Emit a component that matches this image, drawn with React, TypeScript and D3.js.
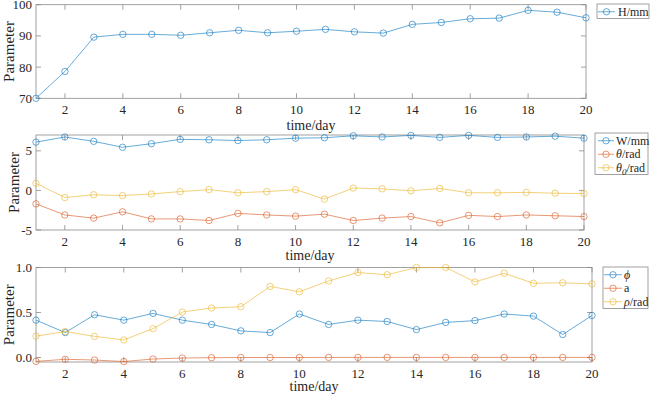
import React, { useEffect, useRef } from 'react';
import * as d3 from 'd3';

// time axis
const days = [1, 2, 3, 4, 5, 6, 7, 8, 9, 10, 11, 12, 13, 14, 15, 16, 17, 18, 19, 20];
const xTicks = [2, 4, 6, 8, 10, 12, 14, 16, 18, 20];

// panel 1
const hMm = [70, 78.6, 89.6, 90.5, 90.5, 90.2, 91.0, 91.8, 91.0, 91.5, 92.1, 91.3, 90.9, 93.7, 94.3, 95.5, 95.7, 98.2, 97.6, 95.8];

// panel 2
const wMm = [6.1, 6.75, 6.2, 5.45, 5.9, 6.45, 6.4, 6.3, 6.4, 6.6, 6.65, 6.9, 6.75, 6.95, 6.7, 6.95, 6.7, 6.75, 6.85, 6.6];
const thetaRad = [-1.7, -3.1, -3.5, -2.7, -3.6, -3.6, -3.8, -2.9, -3.1, -3.25, -3.0, -3.8, -3.5, -3.3, -4.1, -3.15, -3.3, -3.1, -3.2, -3.3];
const theta0Rad = [0.9, -0.9, -0.55, -0.65, -0.45, -0.15, 0.1, -0.3, -0.15, 0.1, -1.1, 0.3, 0.2, -0.05, 0.25, -0.3, -0.3, -0.25, -0.35, -0.4];

// panel 3
const phiVals = [0.415, 0.277, 0.475, 0.415, 0.49, 0.415, 0.367, 0.296, 0.277, 0.483, 0.367, 0.415, 0.40, 0.31, 0.39, 0.41, 0.483, 0.46, 0.255, 0.467];
const aVals = [-0.043, -0.02, -0.028, -0.045, -0.017, -0.006, -0.002, 0, 0, 0, 0.001, 0.001, 0.001, 0.001, 0.001, 0.001, 0.001, 0.001, 0.001, 0.001];
const rhoRad = [0.237, 0.288, 0.235, 0.195, 0.32, 0.505, 0.55, 0.564, 0.79, 0.73, 0.85, 0.944, 0.92, 1.0, 1.0, 0.84, 0.936, 0.825, 0.83, 0.818];

const blue = '#0072BD', red = '#D95319', yellow = '#EDB120';
const axisCol = '#8a8a8a';
const txtCol = '#262626';
const font = 'Liberation Serif';

const panels = [
  {
    box: { l: 36, r: 586, t: 4.7, b: 98.3 }, yDomain: [70, 100], yTicks: [70, 80, 90, 100], yFmt: (d: number) => String(d),
    xLabelY: 130, yLabelX: 9,
    series: [{ vals: hMm, color: blue, label: [{ t: 'H/mm' }] }],
    legend: { x: 597, y: 4, w: 52, line: [598, 615], text: 618 },
  },
  {
    box: { l: 36, r: 584, t: 135, b: 230 }, yDomain: [-5, 7], yTicks: [-5, 0, 5], yFmt: (d: number) => String(d),
    xLabelY: 260, yLabelX: 14,
    series: [
      { vals: wMm, color: blue, label: [{ t: 'W/mm' }] },
      { vals: thetaRad, color: red, label: [{ t: 'θ', i: true }, { t: '/rad' }] },
      { vals: theta0Rad, color: yellow, label: [{ t: 'θ', i: true }, { t: '0', i: true, sub: true }, { t: '/rad' }] },
    ],
    legend: { x: 595, y: 133, w: 53, line: [598, 614], text: 616 },
  },
  {
    box: { l: 36, r: 592, t: 267.5, b: 362 }, yDomain: [-0.05, 1.0], yTicks: [0, 0.5, 1.0], yFmt: d3.format('.1f'),
    xLabelY: 391, yLabelX: 9,
    series: [
      { vals: phiVals, color: blue, label: [{ t: 'ϕ', i: true }] },
      { vals: aVals, color: red, label: [{ t: 'a' }] },
      { vals: rhoRad, color: yellow, label: [{ t: 'ρ', i: true }, { t: '/rad' }] },
    ],
    legend: { x: 603, y: 267, w: 45, line: [604, 622], text: 624 },
  },
];

export default function App() {
  const ref = useRef<SVGSVGElement>(null);

  useEffect(() => {
    const svg = d3.select(ref.current);
    svg.selectAll('*').remove();

    panels.forEach(p => {
      const { l, r, t, b } = p.box;
      const x = d3.scaleLinear().domain([1, 20]).range([l, r]);
      const y = d3.scaleLinear().domain(p.yDomain).range([b, t]);
      const g = svg.append('g').attr('font-family', font);

      // box
      g.append('rect').attr('x', l).attr('y', t).attr('width', r - l).attr('height', b - t)
        .attr('fill', 'white').attr('stroke', axisCol).attr('stroke-width', 0.8);

      // ticks, inward on all four sides
      xTicks.forEach(d => {
        g.append('line').attr('x1', x(d)).attr('x2', x(d)).attr('y1', b).attr('y2', b - 5).attr('stroke', axisCol).attr('stroke-width', 0.8);
        g.append('line').attr('x1', x(d)).attr('x2', x(d)).attr('y1', t).attr('y2', t + 5).attr('stroke', axisCol).attr('stroke-width', 0.8);
        g.append('text').attr('x', x(d)).attr('y', b + 15.5).attr('text-anchor', 'middle')
          .attr('font-family', font).attr('font-size', 13).attr('fill', txtCol).text(d);
      });
      p.yTicks.forEach(d => {
        g.append('line').attr('x1', l).attr('x2', l + 5).attr('y1', y(d)).attr('y2', y(d)).attr('stroke', axisCol).attr('stroke-width', 0.8);
        g.append('line').attr('x1', r).attr('x2', r - 5).attr('y1', y(d)).attr('y2', y(d)).attr('stroke', axisCol).attr('stroke-width', 0.8);
        g.append('text').attr('x', l - 4).attr('y', y(d)).attr('dy', '0.35em').attr('text-anchor', 'end')
          .attr('font-family', font).attr('font-size', 13).attr('fill', txtCol).text(p.yFmt(d));
      });

      // axis labels
      g.append('text').attr('x', (l + r) / 2).attr('y', p.xLabelY).attr('text-anchor', 'middle')
        .attr('font-family', font).attr('font-size', 14).attr('fill', txtCol).text('time/day');
      g.append('text').attr('transform', `translate(${p.yLabelX},${(t + b) / 2}) rotate(-90)`)
        .attr('text-anchor', 'middle').attr('dy', '0.35em')
        .attr('font-family', font).attr('font-size', 15).attr('fill', txtCol).text('Parameter');

      // series
      const line = d3.line<number>().x((_, i) => x(days[i])).y(v => y(v));
      p.series.forEach(s => {
        g.append('path').datum(s.vals).attr('d', line).attr('fill', 'none')
          .attr('stroke', s.color).attr('stroke-width', 0.8).attr('stroke-opacity', 0.75);
        g.append('g').selectAll('circle').data(s.vals).join('circle')
          .attr('cx', (_, i) => x(days[i])).attr('cy', v => y(v)).attr('r', 3.2)
          .attr('fill', 'none').attr('stroke', s.color).attr('stroke-width', 0.8).attr('stroke-opacity', 0.75);
      });

      // legend
      const lg = p.legend;
      const rowH = 13.5;
      const n = p.series.length;
      g.append('rect').attr('x', lg.x).attr('y', lg.y).attr('width', lg.w).attr('height', n * rowH + 1)
        .attr('fill', 'white').attr('stroke', axisCol).attr('stroke-width', 0.8);
      p.series.forEach((s, k) => {
        const cy = lg.y + rowH / 2 + 1 + k * rowH;
        g.append('line').attr('x1', lg.line[0]).attr('x2', lg.line[1]).attr('y1', cy).attr('y2', cy)
          .attr('stroke', s.color).attr('stroke-width', 0.8).attr('stroke-opacity', 0.75);
        g.append('circle').attr('cx', (lg.line[0] + lg.line[1]) / 2).attr('cy', cy).attr('r', 3.2)
          .attr('fill', 'none').attr('stroke', s.color).attr('stroke-width', 0.8).attr('stroke-opacity', 0.75);
        const tx = g.append('text').attr('x', lg.text).attr('y', cy).attr('dy', '0.35em')
          .attr('font-family', font).attr('font-size', 12).attr('fill', txtCol);
        let shifted = false;
        s.label.forEach((part: any) => {
          const ts = tx.append('tspan').text(part.t);
          if (part.i) ts.attr('font-style', 'italic');
          if (part.sub) { ts.attr('dy', 3).attr('font-size', 9); shifted = true; }
          else if (shifted) { ts.attr('dy', -3); shifted = false; }
        });
      });
    });
  }, []);

  return (
    <svg ref={ref} width={650} height={396}
      style={{ position: 'absolute', left: 0, top: 0, background: 'white' }} />
  );
}
